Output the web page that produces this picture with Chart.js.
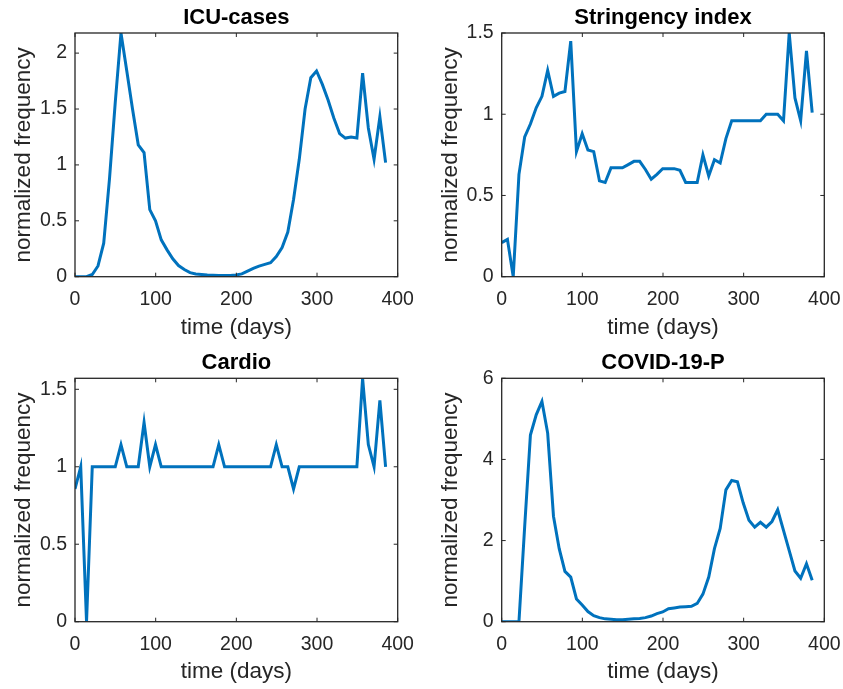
<!DOCTYPE html>
<html><head><meta charset="utf-8">
<script src="https://cdn.jsdelivr.net/npm/chart.js@4.4.1/dist/chart.umd.min.js"></script>
<style>
html,body{margin:0;padding:0;background:#fff;width:843px;height:689px;overflow:hidden;}
canvas{position:absolute;}
</style></head><body>
<canvas id="c1" width="420" height="345" style="left:0;top:0"></canvas>
<canvas id="c2" width="423" height="345" style="left:420px;top:0"></canvas>
<canvas id="c3" width="420" height="344" style="left:0;top:345px"></canvas>
<canvas id="c4" width="423" height="344" style="left:420px;top:345px"></canvas>
<script>
// ---- data ----
const days = [0, 7.1, 14.3, 21.4, 28.5, 35.6, 42.8, 49.9, 57.0, 64.2, 71.3, 78.4, 85.6, 92.7, 99.8,
  106.9, 114.1, 121.2, 128.3, 135.5, 142.6, 149.7, 156.9, 164.0, 171.1, 178.2, 185.4, 192.5, 199.6,
  206.8, 213.9, 221.0, 228.1, 235.3, 242.4, 249.5, 256.7, 263.8, 270.9, 278.0, 285.2, 292.3, 299.4,
  306.6, 313.7, 320.8, 328.0, 335.1, 342.2, 349.4, 356.5, 363.6, 370.7, 377.9, 385.0];

const icuCases = [0, 0, 0, 0.02, 0.096, 0.30, 0.88, 1.56, 2.18, 1.84,
  1.50, 1.18, 1.11, 0.60, 0.50, 0.33, 0.24, 0.16, 0.10, 0.065,
  0.036, 0.025, 0.02, 0.015, 0.012, 0.01, 0.01, 0.01, 0.015, 0.025,
  0.05, 0.075, 0.095, 0.11, 0.125, 0.18, 0.26, 0.40, 0.69, 1.05,
  1.50, 1.78, 1.84, 1.72, 1.58, 1.42, 1.28, 1.24, 1.25, 1.24,
  1.82, 1.33, 1.05, 1.43, 1.02];

const stringency = [0.21, 0.23, 0, 0.63, 0.86, 0.94, 1.04, 1.11, 1.27, 1.11,
  1.13, 1.14, 1.45, 0.77, 0.88, 0.78, 0.77, 0.59, 0.58, 0.67,
  0.67, 0.67, 0.69, 0.71, 0.71, 0.66, 0.60, 0.63, 0.665, 0.665,
  0.665, 0.655, 0.58, 0.58, 0.58, 0.75, 0.62, 0.72, 0.70, 0.85,
  0.96, 0.96, 0.96, 0.96, 0.96, 0.96, 1.0, 1.0, 1.0, 0.96,
  1.5, 1.10, 0.96, 1.39, 1.01];

const cardio = [0.857, 1, 0, 1, 1, 1, 1, 1, 1.143, 1,
  1, 1, 1.286, 1, 1.143, 1, 1, 1, 1, 1,
  1, 1, 1, 1, 1, 1.143, 1, 1, 1, 1,
  1, 1, 1, 1, 1, 1.143, 1, 1, 0.857, 1,
  1, 1, 1, 1, 1, 1, 1, 1, 1, 1,
  1.571, 1.143, 1, 1.429, 1];

const covidP = [0, 0, 0, 0, 2.35, 4.6, 5.1, 5.43, 4.65, 2.6,
  1.8, 1.24, 1.1, 0.56, 0.41, 0.25, 0.15, 0.1, 0.07, 0.06,
  0.05, 0.05, 0.06, 0.07, 0.08, 0.1, 0.14, 0.2, 0.24, 0.32,
  0.34, 0.36, 0.37, 0.38, 0.45, 0.68, 1.1, 1.8, 2.3, 3.25,
  3.48, 3.45, 2.93, 2.5, 2.33, 2.45, 2.33, 2.47, 2.76, 2.25,
  1.75, 1.25, 1.07, 1.43, 1.02];

const xTicks = [0, 100, 200, 300, 400];
const xTickLabels = ['0', '100', '200', '300', '400'];
const yTicksA = [0, 0.5, 1, 1.5, 2];
const yTickLabelsA = ['0', '0.5', '1', '1.5', '2'];
const yTicksB = [0, 0.5, 1, 1.5];
const yTickLabelsB = ['0', '0.5', '1', '1.5'];
const yTicksC = [0, 2, 4, 6];
const yTickLabelsC = ['0', '2', '4', '6'];

const titles = ['ICU-cases', 'Stringency index', 'Cardio', 'COVID-19-P'];
const xTitle = 'time (days)';
const yTitle = 'normalized frequency';

// ---- drawing ----
const FONT = '"Liberation Sans", Arial, Helvetica, sans-serif';
const TXT = '#262626';

const framePlugin = {
  id: 'frame',
  afterDatasetsDraw(chart, args, opts) {
    const {ctx, chartArea: a} = chart;
    const x = chart.scales.x, y = chart.scales.y;
    ctx.save();
    ctx.strokeStyle = TXT;
    ctx.lineWidth = 1;
    ctx.beginPath();
    x.ticks.forEach(t => {
      const px = x.getPixelForValue(t.value);
      ctx.moveTo(px, a.bottom); ctx.lineTo(px, a.bottom - 4);
      ctx.moveTo(px, a.top); ctx.lineTo(px, a.top + 4);
    });
    y.ticks.forEach(t => {
      const py = y.getPixelForValue(t.value);
      ctx.moveTo(a.left, py); ctx.lineTo(a.left + 4, py);
      ctx.moveTo(a.right, py); ctx.lineTo(a.right - 4, py);
    });
    ctx.stroke();
    ctx.lineWidth = 1.3;
    ctx.strokeRect(a.left, a.top, a.right - a.left, a.bottom - a.top);
    ctx.fillStyle = '#000';
    ctx.font = 'bold 22px ' + FONT;
    ctx.textAlign = 'center';
    ctx.textBaseline = 'alphabetic';
    ctx.fillText(opts.text, (a.left + a.right) / 2, a.top - 9.2);
    ctx.restore();
  }
};

function makeChart(id, series, title, yMax, yTicks, yLabels, yAxisW, padRight, padTop, xAxisH, yTitlePad) {
  const pts = days.map((d, i) => ({x: d, y: series[i]}));
  new Chart(document.getElementById(id), {
    type: 'line',
    data: {datasets: [{
      data: pts,
      borderColor: '#0072BD',
      borderWidth: 3,
      pointRadius: 0,
      tension: 0,
      fill: false
    }]},
    plugins: [framePlugin],
    options: {
      responsive: false,
      animation: false,
      devicePixelRatio: 1,
      layout: {padding: {left: 0, right: padRight, top: padTop, bottom: 0}},
      plugins: {legend: {display: false}, tooltip: {enabled: false}, title: {display: false}, frame: {text: title}},
      scales: {
        x: {
          type: 'linear', min: 0, max: 400,
          afterBuildTicks: s => { s.ticks = xTicks.map(v => ({value: v})); },
          afterFit: s => { s.height = xAxisH; },
          grid: {display: false, drawTicks: false},
          border: {display: false},
          ticks: {padding: 0, color: TXT, font: {family: FONT, size: 19.5, lineHeight: 2.39}, maxRotation: 0,
            callback: (v, i) => xTickLabels[i]},
          title: {display: true, text: xTitle, color: TXT, font: {family: FONT, size: 22.5},
            padding: {top: 0, bottom: 3.9}}
        },
        y: {
          type: 'linear', min: 0, max: yMax,
          afterBuildTicks: s => { s.ticks = yTicks.map(v => ({value: v})); },
          afterFit: s => { s.width = yAxisW; },
          grid: {display: false, drawTicks: false},
          border: {display: false},
          ticks: {padding: 8, color: TXT, font: {family: FONT, size: 19.5},
            callback: (v, i) => yLabels[i]},
          title: {display: true, text: yTitle, color: TXT, font: {family: FONT, size: 22.5},
            padding: {top: yTitlePad, bottom: 0}}
        }
      }
    }
  });
}

makeChart('c1', icuCases, titles[0], 2.18, yTicksA, yTickLabelsA, 75, 22.3, 33, 68.3, 10.5);
makeChart('c2', stringency, titles[1], 1.5, yTicksB, yTickLabelsB, 81.7, 18.7, 33, 68.3, 17.2);
makeChart('c3', cardio, titles[2], 1.571, yTicksB, yTickLabelsB, 75, 22.3, 33.3, 67.3, 10.5);
makeChart('c4', covidP, titles[3], 6, yTicksC, yTickLabelsC, 81.7, 18.7, 33.3, 67.3, 17.2);
</script>
</body></html>
